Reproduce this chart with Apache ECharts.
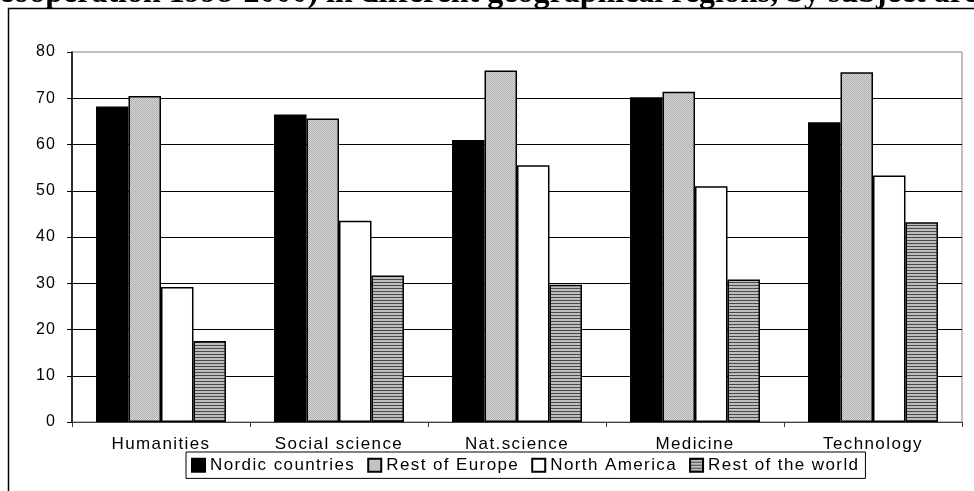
<!DOCTYPE html>
<html>
<head>
<meta charset="utf-8">
<script src="https://cdn.jsdelivr.net/npm/echarts@6/dist/echarts.min.js"></script>
<style>html,body{margin:0;padding:0;background:#fff;}#c{width:974px;height:491px;}</style>
</head>
<body>
<div id="c"></div>
<script>
const categories = ['Humanities', 'Social science', 'Nat.science', 'Medicine', 'Technology'];
const seriesNames = ['Nordic countries', 'Rest of Europe', 'North America', 'Rest of the world'];
const nordic = [68.2, 66.5, 61.0, 70.2, 64.8];
const restEurope = [70.5, 65.6, 76.0, 71.4, 75.6];
const northAmerica = [29.2, 43.5, 55.5, 51.0, 53.3];
const restWorld = [17.5, 31.7, 29.7, 30.8, 43.2];
const yTicks = [0, 10, 20, 30, 40, 50, 60, 70, 80];
const titleText = 'cooperation 1998-2000) in different geographical regions, by subject area';

// letter-spaced sans text, as in the reference
(function () {
  const proto = CanvasRenderingContext2D.prototype;
  const origFill = proto.fillText, origMeasure = proto.measureText;
  function spacing(ctx) {
    if (!('letterSpacing' in ctx)) return;
    const f = ctx.font || '';
    if (/Liberation Sans/.test(f)) {
      const m = f.match(/(\d+(\.\d+)?)px/);
      const size = m ? parseFloat(m[1]) : 16;
      ctx.letterSpacing = (size >= 17 ? 1.4 : 1.1) + 'px';
    } else {
      ctx.letterSpacing = '0px';
    }
  }
  proto.fillText = function () { spacing(this); return origFill.apply(this, arguments); };
  proto.measureText = function () { spacing(this); return origMeasure.apply(this, arguments); };
})();

function makePattern(draw, w, h) {
  const c = document.createElement('canvas');
  c.width = w; c.height = h;
  draw(c.getContext('2d'));
  return { image: c, repeat: 'repeat' };
}
const dotPattern = makePattern(function (ctx) {
  ctx.fillStyle = '#d6d6d6'; ctx.fillRect(0, 0, 2, 2);
  ctx.fillStyle = '#b0b0b0'; ctx.fillRect(0, 0, 1, 1); ctx.fillRect(1, 1, 1, 1);
}, 2, 2);
const stripePattern = makePattern(function (ctx) {
  ctx.fillStyle = '#bdbdbd'; ctx.fillRect(0, 0, 4, 3);
  ctx.fillStyle = '#4a4a4a'; ctx.fillRect(0, 0, 4, 1);
}, 4, 3);

const fills = ['#000000', dotPattern, '#ffffff', stripePattern];
const values = [nordic, restEurope, northAmerica, restWorld];

const chart = echarts.init(document.getElementById('c'), null, { renderer: 'canvas' });
chart.setOption({
  animation: false,
  backgroundColor: '#ffffff',
  graphic: [
    { type: 'rect', shape: { x: 8.5, y: 8.5, width: 1100, height: 600 }, style: { fill: 'none', stroke: '#000', lineWidth: 1.5 }, z: -1 },
    { type: 'text', x: -1, y: -22, style: { text: titleText, font: 'bold 32px "Liberation Serif"', fill: '#000' } }
  ],
  grid: { left: 72, top: 52, right: 12, bottom: 69, show: true, borderColor: '#808080', borderWidth: 1, backgroundColor: 'transparent' },
  legend: {
    left: 186, top: 452,
    data: seriesNames,
    icon: 'rect',
    itemWidth: 13, itemHeight: 13, itemGap: 12,
    borderColor: '#000', borderWidth: 1, padding: [4, 6, 4, 5],
    textStyle: { fontFamily: 'Liberation Sans', fontSize: 17, color: '#000' }
  },
  xAxis: {
    type: 'category', data: categories,
    axisLine: { lineStyle: { color: '#404040', width: 1 } },
    axisTick: { show: true, length: 5, lineStyle: { color: '#404040' } },
    axisLabel: { fontFamily: 'Liberation Sans', fontSize: 17, color: '#000', margin: 13 }
  },
  yAxis: {
    type: 'value', min: 0, max: 80, interval: 10,
    axisLine: { show: true, lineStyle: { color: '#000', width: 1.5 } },
    axisTick: { show: true, length: 5, lineStyle: { color: '#000' } },
    axisLabel: { fontFamily: 'Liberation Sans', fontSize: 16, color: '#000', margin: 16,
      formatter: function (v) { return yTicks.indexOf(v) >= 0 ? String(v) : ''; } },
    splitLine: { show: true, showMaxLine: false, lineStyle: { color: '#000', width: 1 } }
  },
  series: seriesNames.map(function (n, i) {
    return {
      name: n, type: 'bar', data: values[i],
      barGap: '0%', barCategoryGap: '27%',
      itemStyle: { color: fills[i], borderColor: '#000', borderWidth: 1.5 }
    };
  })
});
</script>
</body>
</html>
